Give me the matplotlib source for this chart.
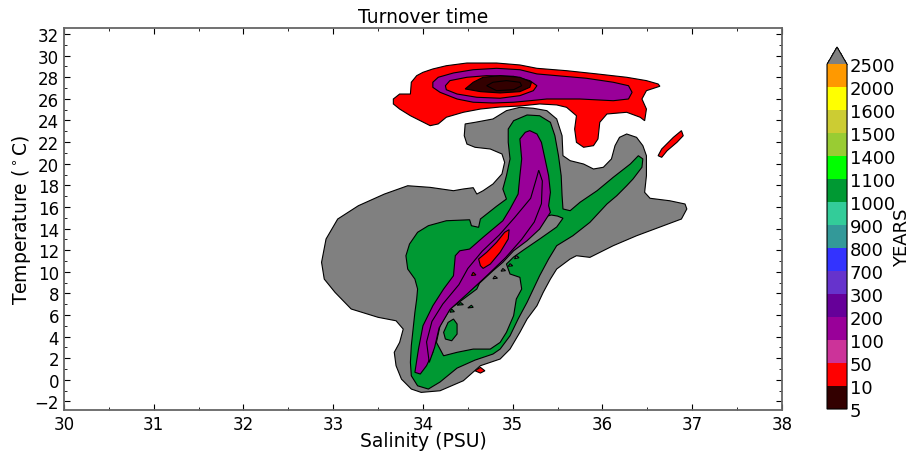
import numpy as np
import matplotlib
matplotlib.use("Agg")
import matplotlib.pyplot as plt
from matplotlib.colors import ListedColormap, BoundaryNorm
from matplotlib.cm import ScalarMappable
from matplotlib.ticker import MultipleLocator

# colour levels of the turnover time (years)
levels = [5, 10, 50, 100, 200, 300, 700, 800, 900, 1000, 1100, 1400, 1500, 1600, 2000, 2500]
level_colors = ["#330000", "#ff0000", "#cc3399", "#990099", "#660099", "#6633cc",
                "#3333ff", "#339999", "#33cc99", "#009933", "#00ff00", "#99cc33",
                "#cccc33", "#ffff00", "#ff9900"]
over_color = "#808080"

# regions of T-S space (salinity PSU, temperature degC)
gray_outer = np.array([
    (32.87, 10.87), (32.92, 13.03), (33.05, 14.88), (33.28, 16.11), (33.57, 17.19),
    (33.83, 17.96), (34.08, 17.81), (34.34, 17.50), (34.45, 17.66), (34.56, 17.78),
    (34.60, 17.19), (34.67, 17.50), (34.78, 18.12), (34.88, 19.05), (34.91, 20.13),
    (34.88, 20.90), (34.75, 21.36), (34.58, 21.52), (34.49, 21.82), (34.46, 22.59),
    (34.47, 23.68), (34.58, 23.83), (34.78, 24.14), (34.93, 24.91), (35.08, 25.22),
    (35.23, 25.13), (35.38, 24.91), (35.49, 24.14), (35.55, 22.59), (35.56, 20.74),
    (35.64, 20.28), (35.79, 19.97), (35.90, 19.51), (36.01, 19.67), (36.10, 20.44),
    (36.14, 21.67), (36.19, 22.44), (36.27, 22.75), (36.38, 22.44), (36.45, 21.67),
    (36.49, 20.74), (36.49, 18.89), (36.47, 17.35), (36.53, 16.80), (36.75, 16.57),
    (36.92, 16.27), (36.94, 15.81), (36.88, 14.88), (36.68, 14.26), (36.38, 13.33),
    (36.12, 12.41), (35.86, 11.33), (35.71, 11.48), (35.64, 11.18), (35.49, 10.25),
    (35.42, 9.32), (35.34, 8.09), (35.27, 6.85), (35.16, 5.62), (35.08, 4.39),
    (34.97, 2.84), (34.86, 1.92), (34.64, 1.30), (34.45, -0.09), (34.19, -1.02),
    (33.98, -1.17), (33.87, -0.86), (33.76, 0.06), (33.70, 1.30), (33.68, 2.54),
    (33.74, 3.46), (33.78, 4.69), (33.70, 5.46), (33.50, 5.78), (33.20, 6.55),
    (33.02, 8.09), (32.90, 9.32),
])

green_main = np.array([
    (34.06, -0.86), (33.94, -0.56), (33.87, 0.37), (33.86, 1.61), (33.87, 3.15),
    (33.89, 4.69), (33.91, 6.24), (33.93, 7.47), (33.94, 8.40), (33.91, 9.32),
    (33.83, 10.25), (33.81, 11.48), (33.85, 12.56), (33.94, 13.65), (34.06, 14.26),
    (34.26, 14.72), (34.52, 14.81), (34.54, 14.26), (34.62, 14.11), (34.64, 14.88),
    (34.82, 16.06), (34.93, 16.73), (34.89, 17.66), (34.93, 18.89), (34.97, 20.44),
    (34.95, 21.98), (34.95, 23.21), (35.01, 23.98), (35.16, 24.51), (35.30, 24.44),
    (35.42, 23.83), (35.47, 22.59), (35.51, 20.74), (35.54, 18.89), (35.55, 17.04),
    (35.56, 15.81), (35.64, 15.65), (35.75, 16.43), (35.94, 17.50), (36.12, 18.74),
    (36.31, 19.97), (36.40, 20.74), (36.45, 20.44), (36.44, 19.67), (36.34, 18.58),
    (36.27, 17.96), (36.16, 17.04), (36.05, 16.27), (35.86, 14.57), (35.67, 13.33),
    (35.49, 12.41), (35.40, 11.18), (35.30, 9.63), (35.23, 8.40), (35.16, 7.17),
    (35.06, 5.62), (34.97, 4.07), (34.86, 2.84), (34.78, 2.38), (34.58, 1.82),
    (34.38, 1.08), (34.19, -0.21),
])

gray_inner = np.array([
    (35.56, 14.95), (35.49, 14.14), (35.30, 13.03), (35.12, 12.01), (35.01, 11.36),
    (34.93, 10.71), (34.97, 9.79), (35.08, 9.48), (35.10, 8.40), (35.04, 7.47),
    (35.01, 5.93), (34.93, 4.39), (34.86, 3.46), (34.75, 2.84), (34.56, 2.84),
    (34.38, 2.54), (34.23, 2.22), (34.15, 3.46), (34.19, 5.00), (34.30, 6.55),
    (34.45, 7.47), (34.60, 8.40), (34.66, 9.50), (34.82, 10.80), (35.00, 12.50),
    (35.20, 14.00), (35.36, 15.10), (35.43, 15.25), (35.50, 15.15),
])

green_blob = np.array([
    (34.25, 3.77), (34.23, 4.39), (34.28, 5.31), (34.34, 5.62), (34.38, 5.16),
    (34.38, 4.23), (34.32, 3.61),
])
green_dots = [
    np.array([(34.38, 6.90), (34.45, 6.95), (34.42, 7.15)]),
    np.array([(34.50, 6.65), (34.56, 6.70), (34.54, 6.90)]),
    np.array([(34.30, 6.25), (34.35, 6.30), (34.32, 6.55)]),
]

purple_ridge = np.array([
    (33.97, 0.53), (33.91, 0.69), (33.95, 2.84), (34.00, 5.00), (34.11, 6.85),
    (34.23, 8.40), (34.34, 9.63), (34.36, 11.48), (34.41, 11.94), (34.52, 12.10),
    (34.67, 13.19), (34.89, 14.72), (34.97, 15.81), (35.06, 17.19), (35.08, 18.89),
    (35.10, 20.44), (35.08, 22.29), (35.14, 22.91), (35.19, 23.06), (35.27, 22.75),
    (35.32, 21.98), (35.36, 20.44), (35.40, 18.89), (35.42, 17.35), (35.40, 16.11),
    (35.42, 15.50), (35.30, 13.95), (35.16, 12.87), (35.01, 11.94), (34.89, 10.87),
    (34.78, 10.09), (34.64, 9.02), (34.45, 7.78), (34.30, 6.85), (34.19, 5.31),
    (34.11, 3.77), (34.11, 2.54), (34.04, 1.30),
])

purple_core = np.array([
    (34.07, 1.60), (34.04, 3.50), (34.10, 5.40), (34.22, 7.00), (34.40, 8.80),
    (34.50, 10.30), (34.66, 11.90), (34.85, 13.40), (35.02, 15.00), (35.20, 16.80),
    (35.27, 18.80), (35.29, 19.40), (35.33, 18.40), (35.32, 16.30), (35.24, 14.60),
    (35.10, 13.00), (34.92, 11.30), (34.72, 9.70), (34.50, 8.00), (34.30, 6.50),
    (34.18, 4.80), (34.13, 3.00),
])

red_core = np.array([
    (34.64, 10.56), (34.62, 11.18), (34.71, 11.80), (34.82, 12.72), (34.91, 13.65),
    (34.96, 13.89), (34.95, 13.03), (34.86, 11.80), (34.75, 10.71), (34.67, 10.31),
])
red_speck = np.array([(34.54, 9.65), (34.59, 9.70), (34.56, 9.95)])

gray_specks = [
    np.array([(35.02, 11.20), (35.07, 11.30), (35.04, 11.50)]),
    np.array([(34.95, 10.50), (35.00, 10.55), (34.97, 10.75)]),
    np.array([(34.87, 10.05), (34.92, 10.10), (34.89, 10.30)]),
    np.array([(34.78, 9.35), (34.83, 9.40), (34.80, 9.60)]),
]

red_top = np.array([
    (33.67, 25.99), (33.74, 26.45), (33.86, 26.45), (33.87, 27.54), (33.93, 28.15),
    (34.00, 28.46), (34.11, 28.77), (34.26, 29.07), (34.49, 29.32), (34.82, 29.32),
    (35.08, 29.14), (35.27, 28.83), (35.60, 28.61), (35.94, 28.31), (36.27, 28.00),
    (36.49, 27.69), (36.62, 27.38), (36.64, 27.17), (36.49, 26.76), (36.44, 25.99),
    (36.49, 25.06), (36.47, 23.98), (36.42, 24.30), (36.27, 24.76), (36.05, 24.60),
    (35.97, 23.83), (35.95, 22.29), (35.90, 21.67), (35.79, 21.52), (35.71, 21.98),
    (35.69, 23.21), (35.71, 24.44), (35.60, 25.22), (35.49, 25.44), (35.30, 25.53),
    (35.08, 25.34), (34.86, 25.25), (34.64, 25.06), (34.45, 24.76), (34.26, 24.30),
    (34.17, 23.68), (34.08, 23.52), (33.97, 23.98), (33.86, 24.44), (33.74, 25.06),
    (33.67, 25.53),
])

purple_top = np.array([
    (34.11, 27.54), (34.17, 28.00), (34.34, 28.40), (34.56, 28.70), (34.82, 28.83),
    (35.08, 28.70), (35.27, 28.31), (35.49, 28.15), (35.82, 27.91), (36.12, 27.54),
    (36.29, 27.22), (36.33, 26.61), (36.29, 25.99), (36.12, 25.83), (35.75, 25.99),
    (35.38, 25.99), (35.19, 25.83), (35.01, 25.69), (34.78, 25.62), (34.56, 25.69),
    (34.38, 25.99), (34.19, 26.61), (34.11, 27.07),
])

red_top_inner = np.array([
    (34.25, 27.22), (34.30, 27.69), (34.49, 28.00), (34.71, 28.15), (35.01, 28.09),
    (35.19, 27.69), (35.27, 27.22), (35.23, 26.76), (35.08, 26.30), (34.86, 26.06),
    (34.60, 26.15), (34.38, 26.45), (34.26, 26.85),
])

brown_core = np.array([
    (34.47, 26.92), (34.56, 27.54), (34.67, 28.00), (34.86, 28.15), (35.08, 28.00),
    (35.21, 27.54), (35.19, 27.07), (35.08, 26.67), (34.86, 26.55), (34.64, 26.67),
])
brown_inner = np.array([
    (34.71, 27.22), (34.78, 27.54), (34.93, 27.69), (35.08, 27.54), (35.10, 27.22),
    (35.01, 26.85), (34.82, 26.76),
])

red_east = np.array([
    (36.62, 20.74), (36.66, 21.36), (36.79, 22.44), (36.88, 23.06), (36.90, 22.59),
    (36.83, 21.98), (36.72, 21.20), (36.66, 20.59),
])
red_south = np.array([(34.58, 0.83), (34.64, 1.15), (34.69, 0.83), (34.64, 0.62)])

# turnover time assigned to each region, in drawing order
regions = [
    (gray_outer, 3000), (green_main, 1050), (gray_inner, 3000), (green_blob, 1050),
    *[(d, 1050) for d in green_dots],
    (purple_ridge, 150), (purple_core, 150), (red_core, 30), (red_speck, 30),
    *[(g, 3000) for g in gray_specks],
    (red_top, 30), (purple_top, 150), (red_top_inner, 30), (brown_core, 7),
    (brown_inner, 7), (red_east, 30), (red_south, 30),
]

cmap = ListedColormap(level_colors)
cmap.set_over(over_color)
norm = BoundaryNorm(levels, cmap.N)

fig = plt.figure(figsize=(9.18, 4.52), dpi=100)
ax = fig.add_axes([0.0697, 0.0907, 0.7821, 0.8451])

for poly, val in regions:
    ax.fill(poly[:, 0], poly[:, 1], facecolor=cmap(norm(val)), edgecolor="k", lw=0.8)

ax.set_xlim(30, 38)
ax.set_ylim(-2.8, 32.56)
ax.xaxis.set_major_locator(MultipleLocator(1))
ax.xaxis.set_minor_locator(MultipleLocator(0.5))
ax.yaxis.set_major_locator(MultipleLocator(2))
ax.yaxis.set_minor_locator(MultipleLocator(1))
ax.tick_params(which="both", direction="in", top=True, right=True, labelsize=12)
ax.tick_params(which="major", length=4)
ax.tick_params(which="minor", length=2)
for sp in ax.spines.values():
    sp.set_color("#666666")
    sp.set_linewidth(1.3)

ax.set_title("Turnover time", fontsize=13.5, pad=4)
ax.set_xlabel("Salinity (PSU)", fontsize=13.5, labelpad=-1)
ax.set_ylabel(r"Temperature ($^\circ$C)", fontsize=13.5, labelpad=1)

cax = fig.add_axes([0.9009, 0.0929, 0.0218, 0.8009])
cbar = fig.colorbar(ScalarMappable(norm=norm, cmap=cmap), cax=cax,
                    extend="max", ticks=levels)
cbar.ax.tick_params(length=0, labelsize=13, pad=2)
cbar.set_label("YEARS", fontsize=13, labelpad=-2)

fig.savefig("out.png", dpi=100)
